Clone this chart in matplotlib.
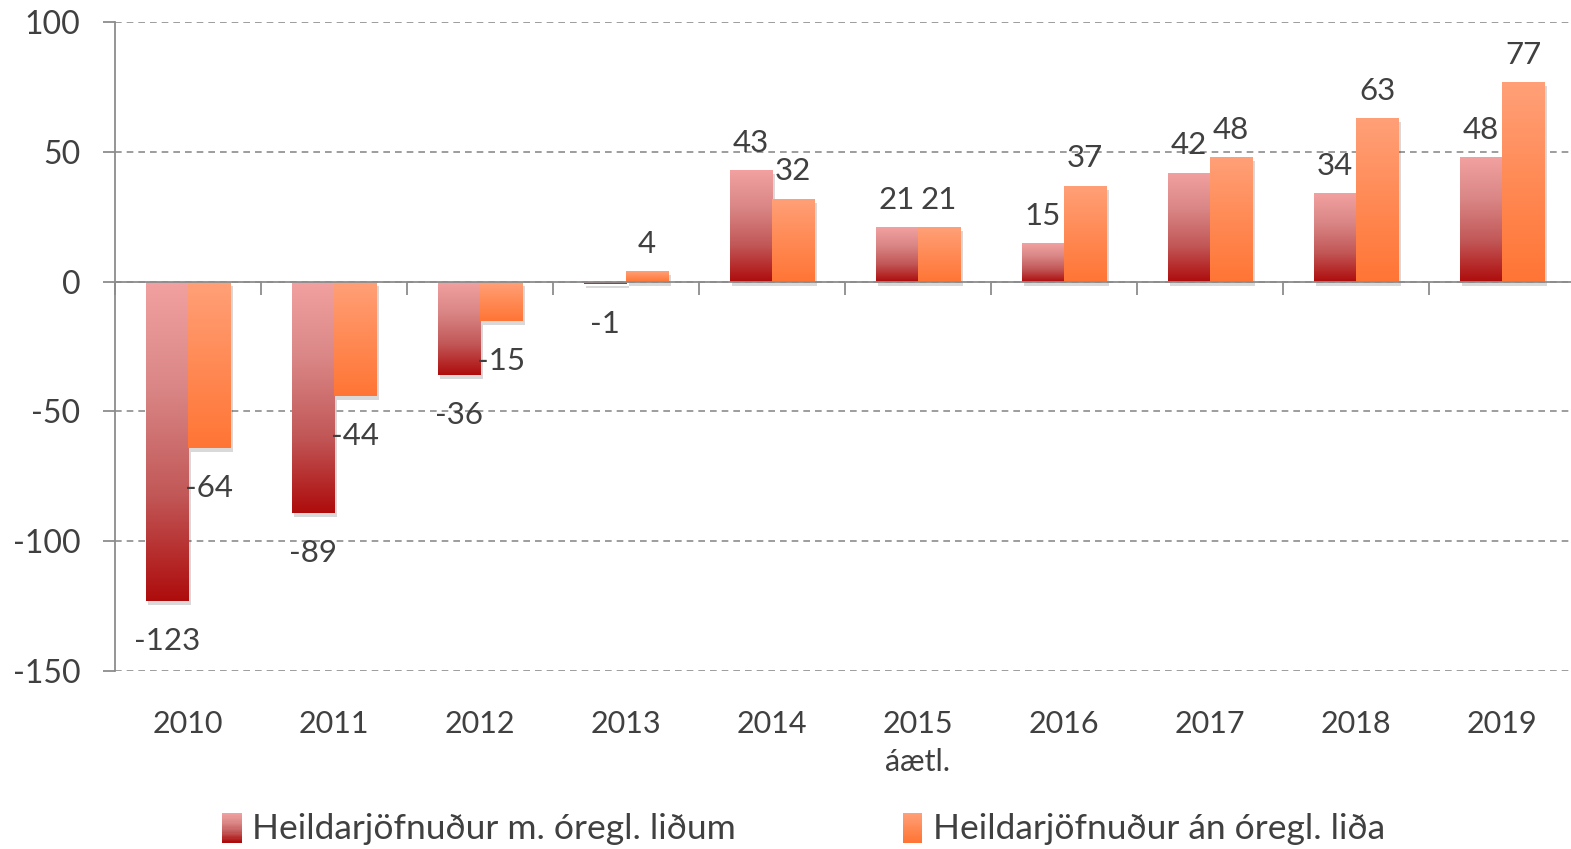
import numpy as np
import matplotlib
matplotlib.use("Agg")
import matplotlib.pyplot as plt
from matplotlib.colors import LinearSegmentedColormap
from matplotlib.patches import Rectangle
from matplotlib.legend_handler import HandlerBase
import matplotlib.patheffects as pe

plt.rcParams['font.family'] = ['Lato', 'DejaVu Sans']
plt.rcParams['axes.unicode_minus'] = False

years = ["2010", "2011", "2012", "2013", "2014", "2015\náætl.", "2016", "2017", "2018", "2019"]
series_names = ["Heildarjöfnuður m. óregl. liðum", "Heildarjöfnuður án óregl. liða"]
with_items = [-123, -89, -36, -1, 43, 21, 15, 42, 34, 48]
without_items = [-64, -44, -15, 4, 32, 21, 37, 48, 63, 77]

pink_grad = ["#F2A0A0", "#DA8686", "#C25858", "#AE0C0C"]
orange_grad = ["#FFA078", "#FF8A55", "#FF7535"]
text_col = "#404040"
grid_col = "#8C8C8C"

cmap1 = LinearSegmentedColormap.from_list("pink", pink_grad)
cmap2 = LinearSegmentedColormap.from_list("orng", orange_grad)

fig = plt.figure(figsize=(15.71, 8.49), dpi=100)
ax = fig.add_axes([0.0732, 0.2097, 0.9293, 0.7644])

x = np.arange(len(years))
w = 0.29
grad = np.linspace(0, 1, 256).reshape(-1, 1)

def draw(vals, offset, cmap, label):
    bars = ax.bar(x + offset, vals, width=w, color=cmap(0.5), linewidth=0, zorder=3,
                  label=label)
    for b in bars:
        b.set_path_effects([pe.SimplePatchShadow(offset=(2, -3), shadow_rgbFace="#000000", alpha=0.15),
                            pe.Normal()])
        x0, y0 = b.get_x(), b.get_y()
        x1, y1 = x0 + b.get_width(), y0 + b.get_height()
        lo, hi = min(y0, y1), max(y0, y1)
        im = ax.imshow(grad, cmap=cmap, aspect='auto', extent=(x0, x1, lo, hi),
                       origin='upper', zorder=4, interpolation='bilinear')
        im.set_clip_path(b)
    for xi, v in zip(x + offset, vals):
        if v >= 0:
            ax.annotate(str(v), (xi, v), xytext=(0, 19.5), textcoords='offset points',
                        ha='center', va='center', fontsize=22.5, color=text_col, zorder=6)
        else:
            ax.annotate(str(v), (xi, v), xytext=(0, -29), textcoords='offset points',
                        ha='center', va='center', fontsize=22.5, color=text_col, zorder=6)
    return bars

draw(with_items, -w / 2, cmap1, series_names[0])
draw(without_items, w / 2, cmap2, series_names[1])

ax.set_xlim(-0.5, len(years) - 0.5)
ax.set_ylim(-150, 100)
ax.set_yticks([100, 50, 0, -50, -100, -150])
ax.yaxis.grid(True, linestyle=(0, (4, 3)), color=grid_col, linewidth=1.2, zorder=0)
ax.set_axisbelow(True)

for s in ["top", "right"]:
    ax.spines[s].set_visible(False)
ax.spines["left"].set_color(grid_col)
ax.spines["left"].set_linewidth(1.3)
ax.spines["bottom"].set_position(("data", 0))
ax.spines["bottom"].set_color(grid_col)
ax.spines["bottom"].set_linewidth(1.3)
ax.spines["bottom"].set_zorder(5)

ax.tick_params(axis='y', direction='out', length=9, width=1.3, color=grid_col,
               labelsize=23, labelcolor=text_col, pad=16)
ax.set_xticks(np.arange(len(years) + 1) - 0.5)
ax.set_xticklabels([])
ax.tick_params(axis='x', direction='out', length=9, width=1.3, color=grid_col)

for xi, lab in zip(x, years):
    ax.annotate(lab, (xi, 0), xycoords=ax.get_xaxis_transform(), xytext=(0, -28),
                textcoords='offset points', ha='center', va='top', fontsize=22,
                color=text_col, linespacing=1.45)

class GradHandler(HandlerBase):
    def __init__(self, cmap):
        super().__init__()
        self.cmap = cmap
    def create_artists(self, legend, orig_handle, xdescent, ydescent, width, height, fontsize, trans):
        n = 24
        arts = []
        hw = width
        hh = height * 1.2
        x0 = -xdescent
        y0 = -ydescent - (hh - height) / 2 - height * 0.05
        for i in range(n):
            r = Rectangle((x0, y0 + hh * (n - 1 - i) / n), hw, hh / n + 0.3,
                          facecolor=self.cmap(i / (n - 1)), edgecolor='none', transform=trans)
            arts.append(r)
        return arts

h1 = Rectangle((0, 0), 1, 1)
h2 = Rectangle((0, 0), 1, 1)
fig.legend([h1, h2], series_names, loc='center', bbox_to_anchor=(0.5115, 0.0235), ncol=2,
           frameon=False, fontsize=25.5, labelcolor=text_col, handlelength=0.55,
           handletextpad=0.3, columnspacing=4.7, borderaxespad=0, borderpad=0,
           handler_map={h1: GradHandler(cmap1), h2: GradHandler(cmap2)})

fig.savefig("out.png", dpi=100, facecolor="white")
